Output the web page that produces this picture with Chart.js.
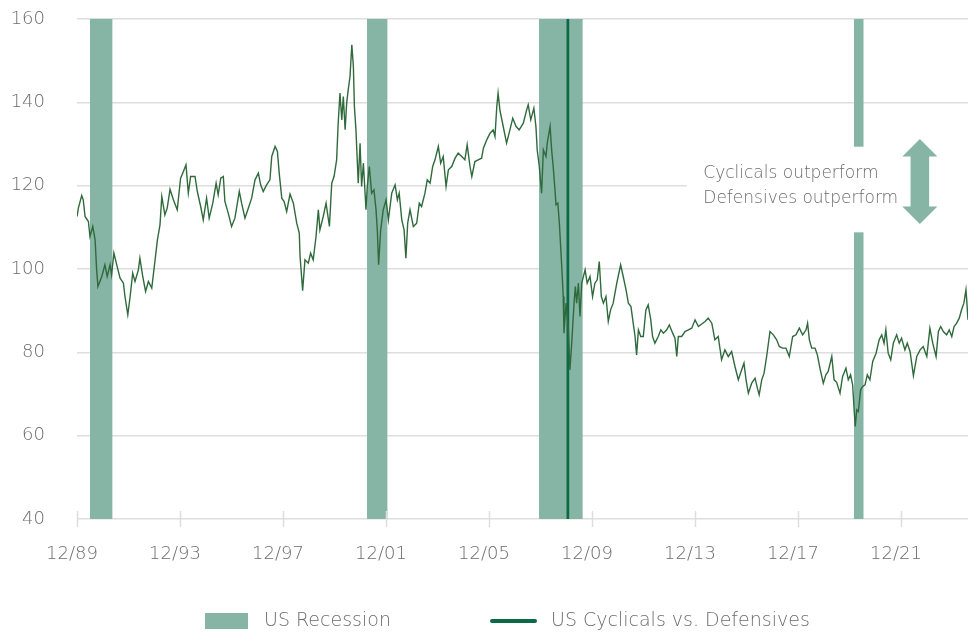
<!DOCTYPE html>
<html><head><meta charset="utf-8">
<script src="https://cdn.jsdelivr.net/npm/chart.js@4.4.0/dist/chart.umd.min.js"></script>
<style>html,body{margin:0;padding:0;background:#fff;overflow:hidden;}</style>
</head><body>
<canvas id="c" width="968" height="632"></canvas>
<script>
// ---- DATA (decimal years / index level) ----
const dates = [
1989.92,1989.97,1990.10,1990.16,1990.23,1990.36,1990.42,1990.53,1990.62,1990.68,1990.73,1990.88,1991.00,1991.09,1991.20,1991.26,1991.35,1991.46,1991.59,1991.72,1991.78,1991.89,1991.98,1992.08,1992.17,1992.30,1992.36,1992.47,1992.58,1992.69,1992.82,1992.95,1993.04,1993.14,1993.21,1993.33,1993.42,1993.53,1993.66,1993.81,1993.94,1994.05,1994.15,1994.24,1994.33,1994.50,1994.59,1994.72,1994.82,1994.95,1995.05,1995.19,1995.32,1995.40,1995.50,1995.60,1995.66,1995.79,1995.92,1996.05,1996.22,1996.31,1996.44,1996.57,1996.70,1996.83,1996.96,1997.05,1997.15,1997.28,1997.41,1997.48,1997.61,1997.70,1997.77,1997.87,1997.96,1998.06,
1998.19,1998.32,1998.45,1998.55,1998.58,1998.68,1998.77,1998.90,1998.99,1999.09,1999.20,1999.29,1999.35,1999.48,1999.59,1999.72,1999.81,1999.90,2000.00,2000.06,2000.13,2000.20,2000.26,2000.33,2000.39,2000.45,2000.52,2000.59,2000.65,2000.69,2000.75,2000.84,2000.91,2000.97,2001.04,2001.14,2001.19,2001.27,2001.36,2001.45,2001.53,2001.58,2001.63,2001.71,2001.81,2001.92,2002.01,2002.14,2002.27,2002.36,2002.43,2002.53,2002.62,2002.69,2002.76,2002.85,2002.98,2003.11,2003.21,2003.30,2003.43,2003.52,2003.63,2003.73,2003.82,2003.95,2004.04,2004.14,2004.25,2004.34,2004.47,2004.60,2004.72,2004.86,2004.98,2005.07,2005.18,2005.25,2005.37,2005.50,2005.63,2005.70,2005.83,2005.96,2006.08,2006.15,2006.22,2006.27,2006.34,2006.47,2006.60,2006.73,2006.84,2006.97,2007.09,
2007.25,2007.38,2007.44,2007.54,2007.66,2007.74,2007.79,2007.87,2007.96,2008.03,2008.13,2008.18,2008.29,2008.35,2008.41,2008.48,2008.52,2008.59,2008.65,2008.70,2008.75,2008.80,2008.83,2008.91,2009.00,2009.06,2009.13,2009.22,2009.27,2009.32,2009.39,2009.45,2009.52,2009.65,2009.73,2009.84,2009.94,2010.03,2010.12,2010.20,2010.28,2010.36,2010.46,2010.55,2010.64,2010.74,2010.88,2011.03,2011.13,2011.24,2011.33,2011.43,2011.52,2011.59,2011.65,2011.72,2011.81,2011.91,2012.01,2012.10,2012.20,2012.27,2012.36,2012.49,2012.59,2012.69,2012.82,2012.92,2013.05,2013.14,2013.21,2013.27,2013.40,2013.53,2013.66,2013.79,2013.92,2014.05,
2014.31,2014.43,2014.57,2014.69,2014.82,2014.95,2015.08,2015.21,2015.34,2015.47,2015.60,2015.73,2015.82,2015.90,2015.99,2016.12,2016.25,2016.34,2016.41,2016.51,2016.60,2016.70,2016.83,2016.96,2017.09,2017.19,2017.32,2017.45,2017.58,2017.71,2017.84,2017.97,2018.10,2018.23,2018.29,2018.36,2018.45,2018.58,2018.67,2018.77,2018.90,2019.00,2019.09,2019.23,2019.32,2019.42,2019.55,2019.65,2019.78,2019.87,2019.96,2020.04,2020.09,2020.14,2020.20,2020.26,2020.35,2020.43,2020.52,2020.61,2020.71,2020.82,2020.95,2021.07,2021.17,2021.26,2021.33,2021.42,2021.52,2021.62,2021.75,2021.85,2021.94,2022.07,2022.16,2022.27,2022.40,2022.53,2022.66,2022.78,2022.92,2023.04,2023.15,2023.28,2023.37,2023.46,2023.56,2023.69,2023.79,2023.89,2023.98,2024.08,2024.18,2024.27,2024.36,2024.44,2024.47,2024.52
];
const values = [
112.6,114.6,117.6,116.6,112.6,111.4,107.8,110.2,107,99.8,95.8,98.2,101,98.2,101,98.6,103.8,101,97.8,96.6,93.4,89,93.4,99,97,99.8,102.6,98.2,94.6,97,95.4,102.2,107,110.6,117.4,113,114.6,119.1,116.6,114.2,121.8,123.4,125,118.2,122.2,122.2,118.6,115,111.8,117,112.2,115.8,120.6,117.8,121.8,122.2,116.2,113.4,110.2,112.2,118.6,115.8,112.2,114.6,117,121.4,123,120.2,118.6,120.2,121.4,127,129.4,128.2,123,117,116.2,113.8,
118,115.8,111,108.6,103,94.8,102.2,101.4,103.8,102.2,107.8,114.2,109.4,112.6,115.8,110.2,120.6,122.2,126.2,135,142.2,135.8,141.4,133.4,139.8,143,146.2,153.8,148.6,139,133.4,120.6,130.2,119.8,125.4,114.2,119.8,124.6,118.2,119,114.2,109.4,101,109.4,114.2,116.6,111.8,118.2,120.2,116.6,118.2,111.8,109.4,102.6,111,114.2,110.2,111,115.8,115,118.2,121.4,120.6,124.6,126.2,129.4,125.4,127,119.8,123.8,124.6,126.6,127.8,127,126.2,129.8,124.6,122.2,125.8,126.2,126.6,129,131,132.6,133.4,131.8,139,142.2,138.2,134.2,130.2,133.4,136.2,134.2,133.4,
135,138.2,139.4,135.8,138.6,134.2,128.6,124.6,118.2,128.6,127,130.2,134.2,128.6,124.6,119,115.4,115.8,111,105.4,99.8,93.4,84.6,91.8,85.4,75.8,82.2,91.8,95.8,91.8,96.6,88.6,96.6,99.8,96.6,98.2,93.4,96.6,97.4,101.8,93.4,91.8,93.4,87.4,90.2,91.8,96.6,101,98.2,95,91.8,91,86.9,83.8,79.4,85.4,83.8,83.8,90.2,91.4,87.8,83.8,82.2,83.8,85.4,84.6,85.4,86.6,84.6,83.4,79,83.8,83.8,85,85.4,85.8,87.8,86.2,
87.4,88.2,87,83,83.8,78.2,80.6,79,80.2,76.6,73.4,75.8,77.4,73.4,70.2,72.6,73.8,71.4,69.8,73.4,75,79,85,84.2,83,81.4,81,81,79,83.8,84.2,85.8,84.2,85.4,87,83,81,81,79.4,76.2,72.6,74.6,75.4,79,73.4,72.8,70.2,74.2,76.2,73.4,74.6,72.2,67,62.2,66.2,65.8,71,71.8,72.2,74.6,73.4,77.8,79.8,83,84.2,82.2,85.4,79.8,78.2,82.2,84.2,82.2,83.4,80.6,82.2,80.2,74.4,79,80.6,81.4,79,85.8,82.2,79,85,86.2,85,84.2,85.4,83.8,86.2,87,88.2,90.2,91.8,95,92.6,87.8
];
const recessionStart = [1990.42, 2001.18, 2007.86, 2020.09];
const recessionEnd   = [1991.30, 2001.98, 2009.56, 2020.47];
const markerDates = [2008.98];
const tickValues = [1989.917, 1993.917, 1997.917, 2001.917, 2005.917, 2009.917, 2013.917, 2017.917, 2021.917];
const tickLabels = ['12/89','12/93','12/97','12/01','12/05','12/09','12/13','12/17','12/21'];
const yMin = 40, yMax = 160, yStep = 20;
const xMin = 1989.917, xMax = 2024.52;
const annotationLines = ['Cyclicals outperform', 'Defensives outperform'];
const seriesLabels = ['US Recession', 'US Cyclicals vs. Defensives'];

// ---- styles ----
const REC = '#86b4a5';
const LINE = '#2f6a3c';
const DARK = '#0b6a46';
const GRID = '#dedede';
const TXT = '#6c6c6c';
const FONT = "'DejaVu Sans', sans-serif";
const FW = '300';

const datasets = [];
datasets.push({
  label: seriesLabels[1], data: dates.map((d, i) => ({x: d, y: values[i]})),
  borderColor: LINE, borderWidth: 1.4, pointRadius: 0, tension: 0, fill: false, order: 0
});
markerDates.forEach(d => datasets.push({
  label: 'marker', data: [{x: d, y: yMin}, {x: d, y: yMax}],
  borderColor: DARK, borderWidth: 2.7, pointRadius: 0, fill: false, order: 1
}));
recessionStart.forEach((s, i) => datasets.push({
  label: seriesLabels[0], data: [{x: s, y: yMax}, {x: recessionEnd[i], y: yMax}],
  borderWidth: 0, borderColor: 'rgba(0,0,0,0)', backgroundColor: REC, pointRadius: 0,
  fill: {value: yMin}, order: 2
}));

const decor = {
  id: 'decor',
  afterDatasetsDraw(chart) {
    const {ctx, chartArea, scales: {x, y}} = chart;
    ctx.save();
    // x tick marks crossing the axis
    ctx.strokeStyle = GRID; ctx.lineWidth = 1.5;
    const yb = y.getPixelForValue(yMin);
    tickValues.forEach(v => {
      const px = Math.round(x.getPixelForValue(v)) + 0.5;
      ctx.beginPath(); ctx.moveTo(px, yb - 8); ctx.lineTo(px, yb + 8); ctx.stroke();
    });
    // annotation box
    const bx = x.getPixelForValue(2013.60);
    const by0 = y.getPixelForValue(129.35), by1 = y.getPixelForValue(108.8);
    ctx.fillStyle = '#fff';
    ctx.fillRect(bx, by0, chartArea.right - bx + 2, by1 - by0);
    ctx.fillStyle = TXT;
    ctx.font = FW + " 17px " + FONT;
    ctx.textAlign = 'left'; ctx.textBaseline = 'middle';
    const tx = x.getPixelForValue(2014.24);
    ctx.fillText(annotationLines[0], tx, y.getPixelForValue(122.8));
    ctx.fillText(annotationLines[1], tx, y.getPixelForValue(116.8));
    // double arrow
    const ax = x.getPixelForValue(2022.65);
    const t = y.getPixelForValue(131.2), b = y.getPixelForValue(110.8);
    const hw = 17.5, hh = 17.5, sw = 9.3;
    ctx.fillStyle = REC;
    ctx.beginPath();
    ctx.moveTo(ax, t);
    ctx.lineTo(ax + hw, t + hh); ctx.lineTo(ax + sw, t + hh);
    ctx.lineTo(ax + sw, b - hh); ctx.lineTo(ax + hw, b - hh);
    ctx.lineTo(ax, b);
    ctx.lineTo(ax - hw, b - hh); ctx.lineTo(ax - sw, b - hh);
    ctx.lineTo(ax - sw, t + hh); ctx.lineTo(ax - hw, t + hh);
    ctx.closePath(); ctx.fill();
    ctx.restore();
  },
  afterDraw(chart) {
    const {ctx} = chart;
    ctx.save();
    const ly = 621;
    ctx.fillStyle = REC;
    ctx.fillRect(205, ly - 8, 43, 16);
    ctx.fillStyle = TXT;
    ctx.font = FW + " 19px " + FONT;
    ctx.textAlign = 'left'; ctx.textBaseline = 'middle';
    ctx.fillText(seriesLabels[0], 264, ly);
    ctx.strokeStyle = DARK; ctx.lineWidth = 4; ctx.lineCap = 'round';
    ctx.beginPath(); ctx.moveTo(492, ly); ctx.lineTo(535, ly); ctx.stroke();
    ctx.fillText(seriesLabels[1], 551, ly);
    ctx.restore();
  }
};

new Chart(document.getElementById('c'), {
  type: 'line',
  data: {datasets},
  options: {
    responsive: false, animation: false, devicePixelRatio: 1,
    layout: {padding: {top: 19, left: 12, right: 0, bottom: 0}},
    plugins: {legend: {display: false}, tooltip: {enabled: false}},
    scales: {
      x: {
        type: 'linear', min: xMin, max: xMax,
        afterBuildTicks: s => { s.ticks = tickValues.map(v => ({value: v})); },
        afterFit: s => { s.height = 113; s.paddingLeft = 0; s.paddingRight = 0; },
        grid: {display: false, drawTicks: false},
        border: {display: false},
        ticks: {
          autoSkip: false, maxRotation: 0, padding: 25, labelOffset: -5,
          color: TXT, font: {family: FONT, size: 18, weight: FW},
          callback: (v, i) => tickLabels[i]
        }
      },
      y: {
        min: yMin, max: yMax,
        afterFit: s => { s.width = 65; s.paddingTop = 0; s.paddingBottom = 0; },
        grid: {color: GRID, lineWidth: 1.5, drawTicks: false},
        border: {display: false},
        ticks: {stepSize: yStep, padding: 32, color: TXT, font: {family: FONT, size: 18, weight: FW}}
      }
    }
  },
  plugins: [decor]
});
</script>
</body></html>
